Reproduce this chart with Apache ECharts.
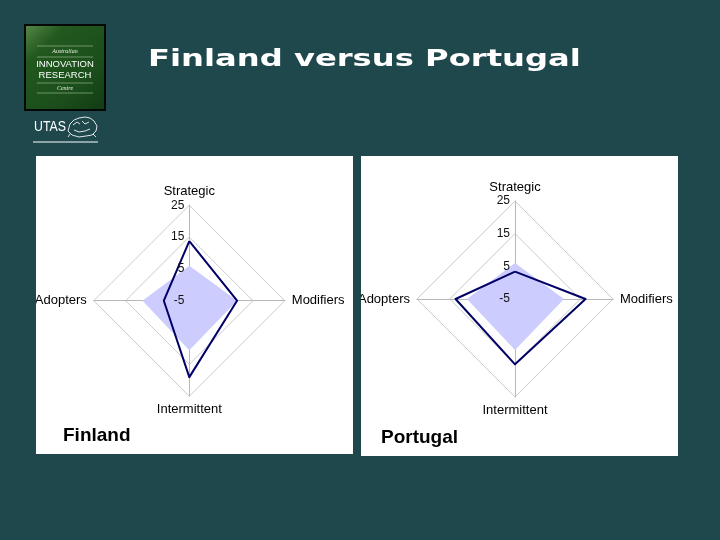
<!DOCTYPE html>
<html>
<head>
<meta charset="utf-8">
<script src="https://cdn.jsdelivr.net/npm/echarts@6/dist/echarts.min.js"></script>
<style>
  html, body { margin: 0; padding: 0; }
  body { width: 720px; height: 540px; position: relative; overflow: hidden; background: #1f484c; }
  #bg { position: absolute; left: 0; top: 0; width: 720px; height: 540px; }
  .box { position: absolute; background: #ffffff; overflow: hidden; }
  #fin { left: 36px; top: 156px; width: 317px; height: 298px; }
  #por { left: 361px; top: 156px; width: 317px; height: 300px; }
</style>
</head>
<body>
<div id="bg"></div>
<div id="fin" class="box"></div>
<div id="por" class="box"></div>
<script>
// ---- data ----
const pageTitle = 'Finland versus Portugal';
const indicatorNames = ['Strategic', 'Adopters', 'Intermittent', 'Modifiers'];
const axisMin = -5;
const axisMax = 25;
const tickStep = 10;
const finlandValues = [13.7, 3, 19, 10];
const portugalValues = [3.4, 13.2, 15, 16.6];
const averageValues = [6, 9.7, 10.6, 10];
const chartTitles = ['Finland', 'Portugal'];

const FONT = 'Liberation Sans, Arial, sans-serif';

// ---- background slide: logo + title ----
const bg = echarts.init(document.getElementById('bg'), null, { renderer: 'canvas' });
const crestStyle = { fill: null, stroke: '#dfe6e6', lineWidth: 1 };
bg.setOption({
  backgroundColor: '#1f484c',
  graphic: [
    { type: 'rect', shape: { x: 25, y: 25, width: 80, height: 85 },
      style: { fill: new echarts.graphic.LinearGradient(0, 0, 1, 1, [
        { offset: 0, color: '#5a8a48' }, { offset: 0.25, color: '#22591f' },
        { offset: 0.7, color: '#1a4d1b' }, { offset: 1, color: '#123a14' }]),
        stroke: '#050805', lineWidth: 2 } },
    { type: 'line', shape: { x1: 37, y1: 46, x2: 93, y2: 46 }, style: { stroke: '#a9c49a', lineWidth: 0.6 } },
    { type: 'line', shape: { x1: 37, y1: 57, x2: 93, y2: 57 }, style: { stroke: '#a9c49a', lineWidth: 0.6 } },
    { type: 'line', shape: { x1: 37, y1: 83, x2: 93, y2: 83 }, style: { stroke: '#a9c49a', lineWidth: 0.6 } },
    { type: 'line', shape: { x1: 37, y1: 93, x2: 93, y2: 93 }, style: { stroke: '#a9c49a', lineWidth: 0.6 } },
    { type: 'text', x: 65, y: 51.5, style: { text: 'Australian', fill: '#e8efe0', font: 'italic 6px Liberation Serif', align: 'center', verticalAlign: 'middle' } },
    { type: 'text', x: 65, y: 64, style: { text: 'INNOVATION', fill: '#ffffff', font: '9.5px Liberation Sans', align: 'center', verticalAlign: 'middle' } },
    { type: 'text', x: 65, y: 75.5, style: { text: 'RESEARCH', fill: '#ffffff', font: '9.5px Liberation Sans', align: 'center', verticalAlign: 'middle' } },
    { type: 'text', x: 65, y: 88, style: { text: 'Centre', fill: '#e8efe0', font: 'italic 6px Liberation Serif', align: 'center', verticalAlign: 'middle' } },
    { type: 'text', x: 34, y: 127, scaleX: 0.88, style: { text: 'UTAS', fill: '#ffffff', font: '14px Liberation Sans', align: 'left', verticalAlign: 'middle' } },
    { type: 'line', shape: { x1: 33, y1: 142, x2: 98, y2: 142 }, style: { stroke: '#ffffff', lineWidth: 1 } },
    { type: 'polygon', shape: { points: [[68,131],[70,124],[74,120],[79,118],[85,117],[90,118],[94,121],[97,126],[96,131],[92,135],[86,136],[79,137],[72,135]] }, style: crestStyle },
    { type: 'polyline', shape: { points: [[73,125],[77,122],[80,124]] }, style: crestStyle },
    { type: 'polyline', shape: { points: [[82,121],[85,124],[89,122]] }, style: crestStyle },
    { type: 'polyline', shape: { points: [[74,130],[79,132],[85,131],[90,129]] }, style: crestStyle },
    { type: 'polyline', shape: { points: [[70,134],[68,137]] }, style: crestStyle },
    { type: 'polyline', shape: { points: [[93,134],[96,137]] }, style: crestStyle },
    { type: 'text', x: 148, y: 60, scaleX: 1.40, style: { text: pageTitle, fill: '#ffffff', font: 'bold 23px DejaVu Sans', align: 'left', verticalAlign: 'middle' } }
  ]
});

// ---- radar charts ----
function buildRadar(el, title, values, cx, cy, r, titleY, titleX) {
  const chart = echarts.init(el, null, { renderer: 'canvas' });
  const ticks = [];
  for (let v = axisMin; v <= axisMax; v += tickStep) ticks.push(v);
  chart.setOption({
    backgroundColor: '#ffffff',
    animation: false,
    title: { text: title, left: titleX, top: titleY, textStyle: { fontFamily: FONT, fontWeight: 'bold', fontSize: 19, color: '#000000' }, padding: 0 },
    radar: {
      center: [cx, cy], radius: r, startAngle: 90, shape: 'polygon', splitNumber: ticks.length - 1,
      indicator: indicatorNames.map(n => ({ name: n, min: axisMin, max: axisMax })),
      axisName: { color: '#000000', fontSize: 13, fontFamily: FONT },
      nameGap: 7,
      axisLine: { lineStyle: { color: '#b8b8b8', width: 1 } },
      splitLine: { lineStyle: { color: '#cccccc', width: 1 } },
      splitArea: { show: false },
      axisTick: { show: false },
      axisLabel: { show: false }
    },
    grid: { left: cx, top: cy - r, width: 1, height: r },
    xAxis: { type: 'value', show: false },
    yAxis: {
      type: 'value', min: axisMin, max: axisMax, interval: tickStep, position: 'left', z: 10,
      axisLine: { show: false }, axisTick: { show: false }, splitLine: { show: false },
      axisLabel: { fontSize: 12, fontFamily: FONT, color: '#111111', margin: 5, showMinLabel: true, showMaxLabel: true }
    },
    series: [
      { type: 'radar', symbol: 'none', z: 2,
        data: [{ value: averageValues, areaStyle: { color: '#ccccff', opacity: 1 }, lineStyle: { width: 0, color: '#ccccff' } }] },
      { type: 'radar', symbol: 'none', z: 3,
        data: [{ value: values, lineStyle: { color: '#000066', width: 2 } }] }
    ]
  });
  return chart;
}

buildRadar(document.getElementById('fin'), chartTitles[0], finlandValues, 153.3, 144.7, 95.5, 270, 27);
buildRadar(document.getElementById('por'), chartTitles[1], portugalValues, 154, 143, 98, 272, 20);
</script>
</body>
</html>
